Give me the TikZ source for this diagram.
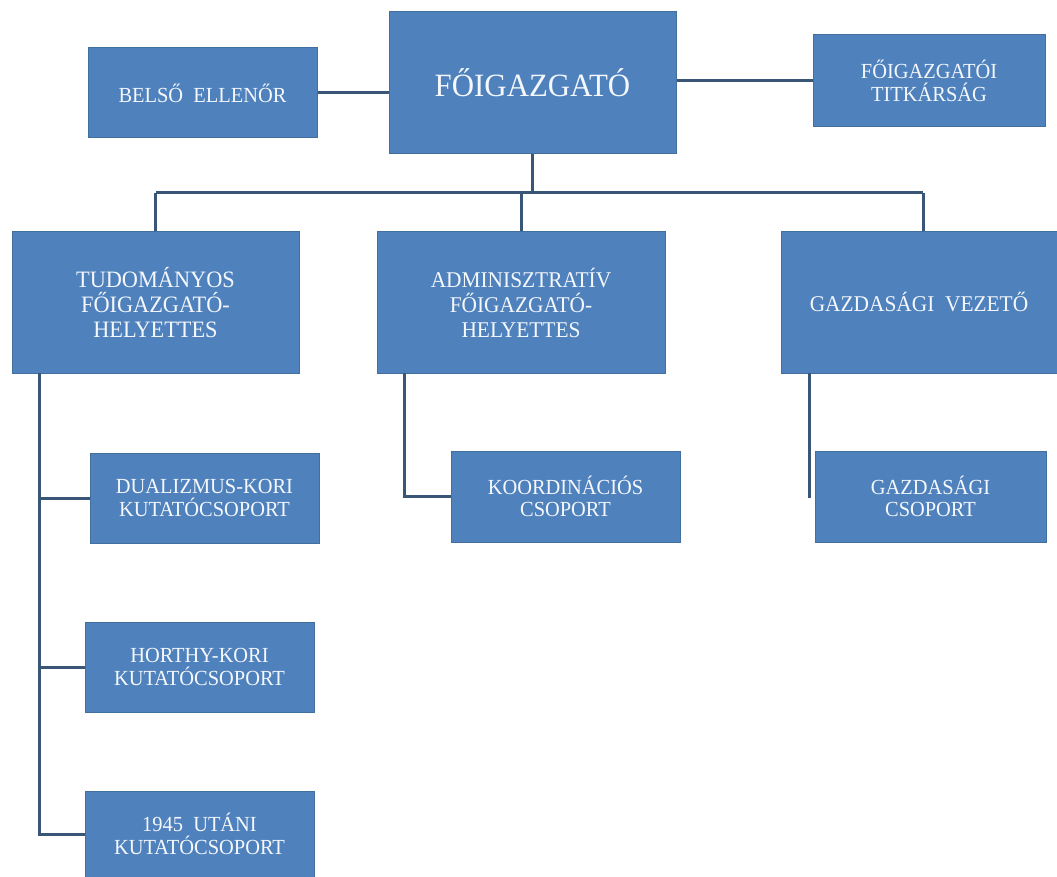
\documentclass[tikz,border=0pt]{standalone}
\usepackage{fontspec}
\setmainfont[FakeStretch=0.95]{Liberation Serif}
\definecolor{boxfill}{HTML}{4F81BD}
\definecolor{boxline}{HTML}{41709F}
\definecolor{conn}{HTML}{3A5676}
\definecolor{txt}{HTML}{F4F7FB}
\begin{document}
\begin{tikzpicture}[x=1pt,y=-1pt,
  orgbox/.style={rectangle, fill=boxfill, draw=boxline, line width=1pt,
    text=txt, align=center, inner sep=0pt},
  conline/.style={draw=conn, line width=3pt}]
\useasboundingbox (0,0) rectangle (1057,877);
% top row
\node[orgbox, minimum width=287, minimum height=142, font=\fontsize{32.5}{34}\selectfont] (fo) at (532.5,83) {FŐIGAZGATÓ};
\node[orgbox, minimum width=229, minimum height=90, font=\fontsize{21.5}{21}\selectfont] (belso) at (202.5,93) {BELSŐ\ \ ELLENŐR};
\node[orgbox, minimum width=232, minimum height=92, font=\fontsize{21.5}{22.5}\selectfont] (titk) at (929,81) {FŐIGAZGATÓI\\TITKÁRSÁG};
% middle row
\node[orgbox, minimum width=287, minimum height=141, font=\fontsize{23.5}{25}\selectfont] (tud) at (155.5,302.5) {TUDOMÁNYOS\\FŐIGAZGATÓ-\\HELYETTES};
\node[orgbox, minimum width=288, minimum height=141, font=\fontsize{22.5}{25}\selectfont] (adm) at (521,302.5) {ADMINISZTRATÍV\\FŐIGAZGATÓ-\\HELYETTES};
\node[orgbox, minimum width=276, minimum height=141, font=\fontsize{22.5}{25}\selectfont] (gazd) at (919,302.5) {GAZDASÁGI\ \ VEZETŐ};
% lower boxes
\node[orgbox, minimum width=229, minimum height=90, font=\fontsize{21.5}{22.5}\selectfont] (dual) at (204.5,498) {DUALIZMUS-KORI\\KUTATÓCSOPORT};
\node[orgbox, minimum width=229, minimum height=91, font=\fontsize{21.5}{22.5}\selectfont] (koord) at (565.5,496.5) {KOORDINÁCIÓS\\CSOPORT};
\node[orgbox, minimum width=231, minimum height=91, font=\fontsize{21.5}{22.5}\selectfont] (gcs) at (930.5,496.5) {GAZDASÁGI\\CSOPORT};
\node[orgbox, minimum width=229, minimum height=90, font=\fontsize{21.5}{22.5}\selectfont] (horthy) at (199.5,667) {HORTHY-KORI\\KUTATÓCSOPORT};
\node[orgbox, minimum width=229, minimum height=86, font=\fontsize{21.5}{22.5}\selectfont] (u45) at (199.5,834) {1945\ \ UTÁNI\\KUTATÓCSOPORT};
% coordinates
\coordinate (busL) at (155.5,193);
\coordinate (busR) at (923,193);
\coordinate (spL) at (39,373);
\coordinate (spA) at (404,373);
\coordinate (spG) at (809,373);
\coordinate (endG) at (809,498);
% connectors
\draw[conline] (belso.east) -- (belso.east -| fo.west);
\draw[conline] (titk.west -| fo.east) -- (titk.west);
\draw[conline] (fo.south) -- (fo.south |- busL);
\draw[conline] (busL) -- (busR);
\draw[conline] (busL) -- (tud.north);
\draw[conline] (adm.north |- busL) -- (adm.north);
\draw[conline] (busR) -- (busR |- gazd.north);
\draw[conline] (spL) |- (u45.west);
\draw[conline] (spL |- dual.west) -- (dual.west);
\draw[conline] (spL |- horthy.west) -- (horthy.west);
\draw[conline] (spA) |- (koord.west);
\draw[conline] (spG) -- (endG);
\end{tikzpicture}
\end{document}
